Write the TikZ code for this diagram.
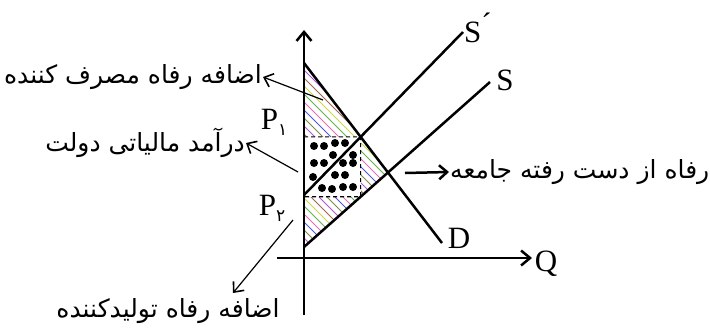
\documentclass[tikz,border=0pt]{standalone}
\usepackage{fontspec}
\setmainfont{Liberation Serif}
\newfontfamily\farsi[Script=Arabic]{DejaVu Sans}
\TeXXeTstate=1
\usetikzlibrary{arrows.meta}

% colours of the hatching
\definecolor{hatch0}{RGB}{100,175,80}
\definecolor{hatch1}{RGB}{200,215,80}
\definecolor{hatch2}{RGB}{165,100,80}
\definecolor{hatch3}{RGB}{175,85,210}
\definecolor{hatch4}{RGB}{125,140,75}
\definecolor{hatch5}{RGB}{85,85,210}
\definecolor{hatch6}{RGB}{230,110,185}

\tikzset{
  curve/.style={line width=2.5pt},
  axis/.style={line width=2.5pt, -{Straight Barb[length=9pt,width=15pt,line width=2.5pt]}},
  lbl/.style={font=\fontsize{31}{33}\selectfont, inner sep=0pt},
  fa/.style={font=\farsi\fontsize{25}{28}\selectfont, inner sep=1pt},
  note/.style={line width=1.2pt, -{Straight Barb[length=8pt,width=14pt,line width=1.6pt]}},
  bignote/.style={line width=2.5pt, -{Straight Barb[length=8pt,width=14pt,line width=2.5pt]}},
  hatchline/.style={line width=0.75pt},
  dot/.style={fill=black}
}

\newcommand\hatcharea[1]{%
  \begin{scope}
    \clip #1;
    \foreach \c [count=\i] in {50,58,...,350}{
      \pgfmathtruncatemacro\m{mod(\i,7)}
      \draw[hatchline, hatch\m] (\c,0) -- ++(340,340);
    }
  \end{scope}}

\begin{document}
\begin{tikzpicture}[x=1pt, y=-1pt]
  \useasboundingbox (0,0) rectangle (710,332);

  % --- end points of the curves ---
  \coordinate (dtop) at (304,63);
  \coordinate (dbot) at (442,243);
  \coordinate (spa) at (304,195);
  \coordinate (spb) at (463,32);
  \coordinate (sa) at (304,247);
  \coordinate (sb) at (490,82);

  % equilibrium points
  \coordinate (E1) at (intersection of dtop--dbot and spa--spb);
  \coordinate (E0) at (intersection of dtop--dbot and sa--sb);
  \coordinate (E1low) at ([yshift=-10pt]E1);
  \coordinate (F) at (intersection of E1--E1low and sa--sb);
  \coordinate (P1) at (E1 -| dtop);
  \coordinate (P2) at (F -| dtop);

  % hatched surpluses and loss
  \hatcharea{(dtop) -- (E1) -- (P1) -- cycle}
  \hatcharea{(E1) -- (E0) -- (F) -- cycle}
  \hatcharea{(P2) -- (F) -- (sa) -- cycle}

  % tax revenue
  \fill[white] (P1) rectangle (F);
  \draw[line width=1.1pt, dash pattern=on 4pt off 3pt] (P1) -- (E1) -- (F) -- (P2);
  \foreach \p in {(314,146),(324,146),(335,143),(345,143),
                  (333,155),(353,155),
                  (314,163),(324,163),(343,163),(353,163),
                  (313,177),(335,175),(345,175),
                  (322,188),(332,189),(343,187),(353,187)}
    \fill[dot] \p circle (4);

  % axes
  \coordinate (yfoot) at (304,315);
  \coordinate (ytip) at (304,30);
  \coordinate (xfoot) at (277,258);
  \coordinate (xtip) at (532,258);
  \draw[axis] (yfoot) -- (ytip);
  \draw[axis] (xfoot) -- (xtip);

  % curves
  \draw[curve] (dtop) -- (dbot);
  \draw[curve] (spa) -- (spb);
  \draw[curve] (sa) -- (sb);

  % curve and axis labels
  \node[lbl] (lQ) at (546,264) {Q};
  \node[lbl] (lD) at (459,238) {D};
  \node[lbl] (lS) at (505,80) {S};
  \node[lbl] (lSp) at (478,28) {S\raisebox{0.25em}{´}};
  \node[lbl] (lP1) at (274,122) {P\raisebox{-0.2em}{\farsi\fontsize{17}{18}\selectfont ۱}};
  \node[lbl] (lP2) at (272,208) {P\raisebox{-0.2em}{\farsi\fontsize{17}{18}\selectfont ۲}};

  % persian notes
  \node[fa, anchor=east] (nCons) at (263,77) {\beginR اضافه رفاه مصرف کننده\endR};
  \node[fa, anchor=east] (nTax) at (246,143) {\beginR درآمد مالیاتی دولت\endR};
  \node[fa, anchor=west] (nLoss) at (449,172) {\beginR رفاه از دست رفته جامعه\endR};
  \node[fa] (nProd) at (168,311) {\beginR اضافه رفاه تولیدکننده\endR};

  \coordinate (cCons) at (323,100);
  \coordinate (cTax) at (298,172);
  \coordinate (cLoss) at (405,173);
  \coordinate (cProd) at (293,220);
  \coordinate (tProd) at (233,293);

  \draw[note] (cCons) -- (nCons.east);
  \draw[note] (cTax) -- (nTax.east);
  \draw[bignote] (cLoss) -- (nLoss.west);
  \draw[note] (cProd) -- (tProd);
\end{tikzpicture}
\end{document}
